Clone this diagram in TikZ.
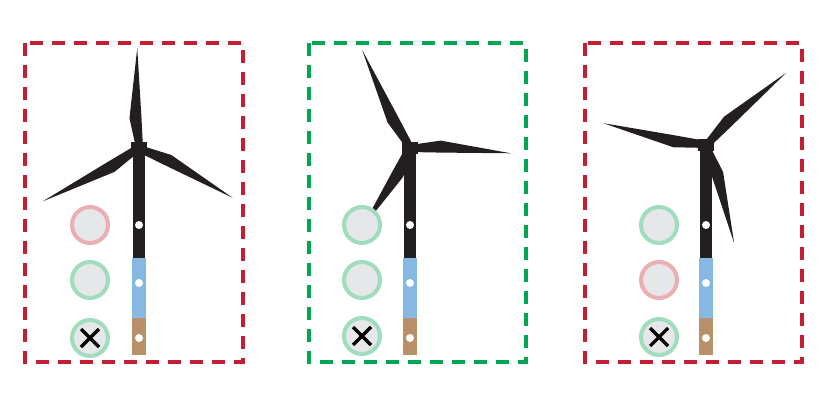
\documentclass[tikz,border=0pt]{standalone}
\usetikzlibrary{calc}
\definecolor{frameRed}{RGB}{196,30,50}
\definecolor{frameGreen}{RGB}{0,166,81}
\definecolor{bladeBlack}{RGB}{35,31,32}
\definecolor{towerBlue}{RGB}{133,185,228}
\definecolor{towerBrown}{RGB}{184,145,104}
\definecolor{ledPink}{RGB}{234,174,180}
\definecolor{ledGreen}{RGB}{160,220,190}
\definecolor{ledFill}{RGB}{230,231,232}
\tikzset{
  frame/.style={line width=3.5pt, dash pattern=on 13pt off 9pt},
  led/.style={circle, minimum size=36pt, inner sep=0pt, line width=4pt, fill=ledFill},
  dot/.style={circle, fill=white, minimum size=8pt, inner sep=0pt},
  fail/.style={path picture={\draw[black, line width=3.2pt]
      ($(path picture bounding box.center)+(-9,-9)$) -- ++(18,18)
      ($(path picture bounding box.center)+(-9,9)$) -- ++(18,-18);}},
}
\newcommand{\turbine}[5]{% x, hub y, three blade angle/length pairs
  \begin{scope}[shift={(#1,0)}]
    \fill[bladeBlack] (-6,#2) rectangle (6,258);
    \fill[towerBlue] (-7,258) rectangle (7,318);
    \fill[towerBrown] (-7,318) rectangle (7,355);
    \node[dot] (d1) at (0,225) {};
    \node[dot] (d2) at (0,283) {};
    \node[dot] (d3) at (0,338) {};
    \foreach \a/\l in {#3,#4,#5}
      \fill[bladeBlack, shift={(0,#2)}, rotate=-\a]
        (0,-3) -- (0.3*\l,-9) -- (\l,0) -- (0.3*\l,3) -- (0,4) -- cycle;
    \fill[bladeBlack] (-8,#2-6) rectangle (8,#2+6);
  \end{scope}}
\begin{document}
\begin{tikzpicture}[x=1pt, y=-1pt]
  \useasboundingbox (0,0) rectangle (832,401);
  % panel 1
  \draw[frame, frameRed] (25,43) rectangle (243,362);
  \turbine{139}{148}{-91/100}{151/110}{28/106}
  \node[led, draw=ledPink] (a1) at (90,225) {};
  \node[led, draw=ledGreen] (a2) at (90,280) {};
  \node[led, draw=ledGreen, fail] (a3) at (90,338) {};
  % panel 2
  \draw[frame, frameGreen] (309,43) rectangle (526,362);
  \turbine{410}{148}{-116/109}{3/101}{121/95}
  \node[led, draw=ledGreen] (b1) at (362,225) {};
  \node[led, draw=ledGreen] (b2) at (362,280) {};
  \node[led, draw=ledGreen, fail] (b3) at (362,336) {};
  % panel 3
  \draw[frame, frameRed] (585,43) rectangle (802,362);
  \turbine{706}{145}{-168/105}{-42/108}{74/102}
  \node[led, draw=ledGreen] (c1) at (659,225) {};
  \node[led, draw=ledPink] (c2) at (659,280) {};
  \node[led, draw=ledGreen, fail] (c3) at (659,337) {};
\end{tikzpicture}
\end{document}
